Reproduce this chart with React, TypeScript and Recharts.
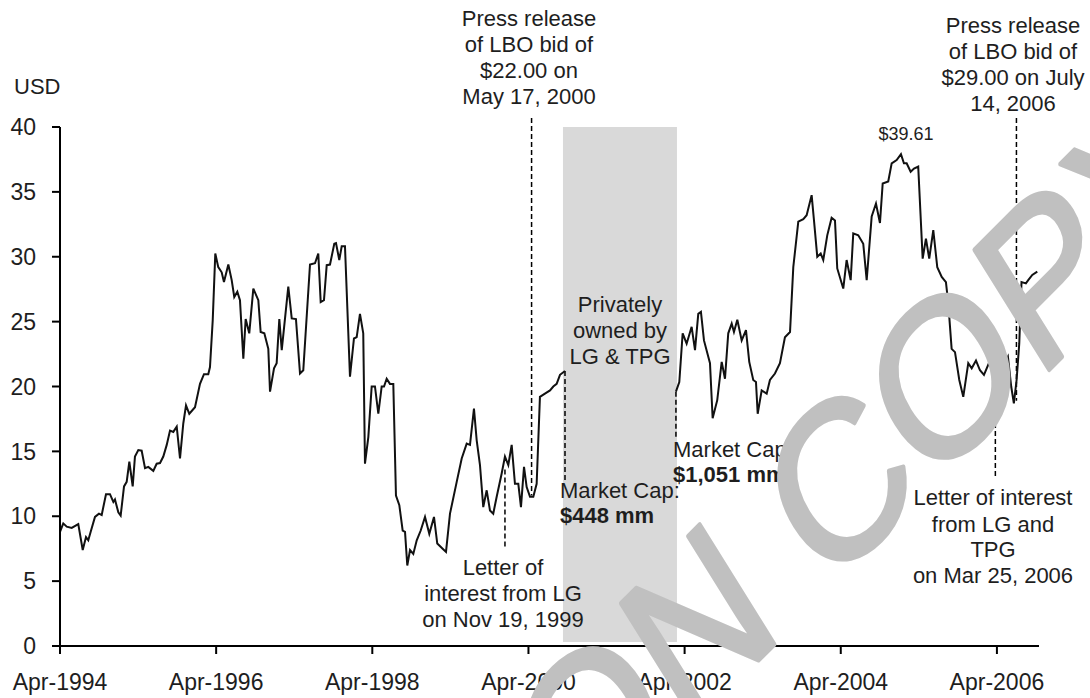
import React from 'react';
import { LineChart, Line, XAxis, YAxis, ReferenceArea, ReferenceLine } from 'recharts';

const FONT = '"Liberation Sans", Arial, Helvetica, sans-serif';
const TEXT = '#1e1e1e';

// time in decimal years, price in USD
const publicDates1 = [1994.25,1994.292,1994.336,1994.400,1994.484,1994.541,1994.583,1994.612,1994.643,1994.698,1994.749,1994.784,1994.839,1994.890,1994.933,1994.954,1994.997,1995.027,1995.070,1995.104,1995.138,1995.181,1995.210,1995.253,1995.296,1995.339,1995.381,1995.445,1995.488,1995.531,1995.573,1995.617,1995.659,1995.701,1995.745,1995.787,1995.829,1995.864,1995.906,1995.979,1996.043,1996.094,1996.149,1996.171,1996.206,1996.239,1996.277,1996.321,1996.350,1996.406,1996.449,1996.482,1996.521,1996.555,1996.598,1996.628,1996.674,1996.726,1996.790,1996.820,1996.867,1996.918,1996.940,1996.991,1997.025,1997.059,1997.090,1997.174,1997.218,1997.272,1997.324,1997.366,1997.452,1997.516,1997.558,1997.589,1997.631,1997.666,1997.708,1997.763,1997.785,1997.827,1997.858,1997.900,1997.964,1998.015,1998.050,1998.092,1998.134,1998.156,1998.199,1998.242,1998.284,1998.327,1998.370,1998.400,1998.434,1998.476,1998.519,1998.553,1998.596,1998.639,1998.669,1998.698,1998.733,1998.775,1998.819,1998.870,1998.925,1998.980,1999.040,1999.082,1999.151,1999.194,1999.245,1999.331,1999.395,1999.459,1999.501,1999.552,1999.587,1999.629,1999.671,1999.715,1999.757,1999.799,1999.843,1999.907,1999.949,1999.992,2000.035,2000.077,2000.120,2000.154,2000.193,2000.227,2000.270,2000.312,2000.355,2000.397,2000.461,2000.526,2000.568,2000.611,2000.654,2000.718];
const publicPrices1 = [8.8,9.45,9.2,9.1,9.4,7.4,8.4,8.15,8.8,9.95,10.2,10.1,11.7,11.7,11.1,11.3,10.3,10.05,12.3,12.65,14.2,12.3,14.6,15.1,15.05,13.7,13.8,13.5,14.05,14.1,14.6,15.5,16.6,16.5,16.9,14.45,17.15,18.55,17.9,18.4,20.2,20.95,20.95,21.5,25.1,30.25,29.2,28.8,28.05,29.4,28.2,26.9,27.3,26.65,22.15,25.2,24.1,27.55,26.65,24.2,24.1,22.9,19.6,21.4,21.8,25.2,22.8,27.7,25.25,25.2,21.0,21.25,29.4,29.5,30.25,26.5,26.65,29.35,29.4,31.0,31.05,29.75,30.8,30.8,20.75,23.7,23.8,25.6,24.1,14.05,16.1,20.0,20.0,17.9,20.0,20.0,20.6,20.2,20.2,11.6,10.85,8.9,8.8,6.2,7.4,7.1,8.15,8.9,9.95,8.65,9.95,7.9,7.5,7.25,10.2,12.65,14.45,15.6,15.5,18.3,15.85,13.95,10.7,12.0,10.45,10.2,11.5,13.3,14.6,13.95,15.5,12.5,12.5,10.7,13.8,12.25,11.5,11.5,12.5,19.2,19.45,19.7,20.0,20.2,20.9,21.2];

const publicDates2 = [2002.139,2002.182,2002.225,2002.276,2002.340,2002.383,2002.425,2002.459,2002.498,2002.575,2002.609,2002.668,2002.725,2002.767,2002.809,2002.853,2002.882,2002.925,2002.981,2003.036,2003.078,2003.129,2003.164,2003.186,2003.237,2003.301,2003.343,2003.407,2003.471,2003.535,2003.600,2003.642,2003.706,2003.770,2003.813,2003.877,2003.907,2003.949,2003.993,2004.026,2004.077,2004.133,2004.176,2004.205,2004.282,2004.325,2004.377,2004.410,2004.474,2004.538,2004.582,2004.646,2004.701,2004.752,2004.787,2004.858,2004.902,2004.966,2005.021,2005.059,2005.094,2005.145,2005.188,2005.242,2005.299,2005.341,2005.383,2005.435,2005.486,2005.543,2005.597,2005.627,2005.670,2005.713,2005.768,2005.819,2005.883,2005.927,2005.982,2006.033,2006.084,2006.161,2006.247,2006.289,2006.331,2006.366,2006.391,2006.433,2006.467,2006.502,2006.536,2006.565,2006.621,2006.651,2006.703,2006.767];
const publicPrices2 = [19.6,20.35,24.1,23.3,24.6,22.8,25.6,25.75,23.55,21.8,17.55,18.95,21.9,20.6,24.1,24.85,24.2,25.15,23.55,24.35,21.9,20.5,20.35,17.9,19.7,19.45,20.5,21.0,21.8,23.8,24.2,29.2,32.7,32.9,33.2,34.75,32.8,30.0,30.25,29.75,31.65,33.0,32.8,29.1,27.55,29.75,28.2,31.8,31.65,31.0,28.2,33.1,34.1,32.6,35.65,35.8,37.2,37.45,37.9,37.2,37.2,36.55,36.8,36.95,29.85,31.4,29.85,32.05,29.2,28.45,28.05,26.4,22.9,22.65,20.5,19.2,21.8,21.4,22.0,21.25,20.9,22.0,23.45,22.8,22.65,22.0,22.3,20.0,18.7,20.5,23.3,28.05,27.95,28.2,28.6,28.85];

const tickValues = [1994.25, 1996.25, 1998.25, 2000.25, 2002.25, 2004.25, 2006.25];
const tickLabels = ['Apr-1994', 'Apr-1996', 'Apr-1998', 'Apr-2000', 'Apr-2002', 'Apr-2004', 'Apr-2006'];
const yTicks = [0, 5, 10, 15, 20, 25, 30, 35, 40];

const privatePeriod = { from: 2000.692, to: 2002.152 };

// event markers: [date, top price, bottom price]
const eventLines: [number, number, number][] = [
  [1999.949, 13.6, 7.6],   // Letter of interest from LG, Nov 19 1999
  [2000.29, 40.7, 11.6],   // Press release LBO bid $22.00
  [2000.718, 21.2, 12.8],  // Market cap $448mm
  [2002.139, 19.6, 16.1],  // Market cap $1,051mm
  [2006.23, 21.5, 12.9],   // Letter of interest Mar 25 2006
  [2006.50, 40.7, 18.9],   // Press release LBO bid $29.00
];

const zip = (d: number[], p: number[]) =>
  d.slice(0, Math.min(d.length, p.length)).map((t, i) => ({ t, price: p[i] as number | null }));

const data = [
  ...zip(publicDates1, publicPrices1),
  { t: 2001.4, price: null },
  ...zip(publicDates2, publicPrices2),
];

const Lines = ({ x, ys, lines, anchor = 'middle', bold }: { x: number; ys: number[]; lines: string[]; anchor?: string; bold?: boolean[] }) => (
  <text fontFamily={FONT} fontSize={22} fill={TEXT} textAnchor={anchor as any}>
    {lines.map((l, i) => (
      <tspan key={i} x={x} y={ys[i]} fontWeight={bold && bold[i] ? 'bold' : 'normal'}>{l}</tspan>
    ))}
  </text>
);

export default function App() {
  return (
    <div style={{ position: 'absolute', left: 0, top: 0, width: 1090, height: 698, background: '#fff', overflow: 'hidden' }}>
      <LineChart width={1090} height={698} data={data} margin={{ top: 127, right: 51, bottom: 0, left: 0 }}>
        <ReferenceArea x1={privatePeriod.from} x2={privatePeriod.to} y1={0.3} y2={40} fill="#d9d9d9" fillOpacity={1} stroke="none" ifOverflow="visible" />
        <XAxis
          type="number"
          dataKey="t"
          domain={[1994.25, 2006.789]}
          ticks={tickValues}
          tickFormatter={(v: number) => tickLabels[tickValues.indexOf(v)] ?? ''}
          height={52}
          tickSize={8}
          tickMargin={20}
          axisLine={{ stroke: '#000', strokeWidth: 2 }}
          tickLine={{ stroke: '#000', strokeWidth: 2 }}
          tick={{ fill: TEXT, fontSize: 23, fontFamily: FONT }}
          allowDataOverflow
          interval={0}
        />
        <YAxis
          type="number"
          domain={[0, 40]}
          ticks={yTicks}
          width={60}
          tickSize={8}
          tickMargin={16}
          axisLine={{ stroke: '#000', strokeWidth: 2 }}
          tickLine={{ stroke: '#000', strokeWidth: 2 }}
          tick={{ fill: TEXT, fontSize: 23, fontFamily: FONT }}
          interval={0}
        />
        {eventLines.map(([t, a, b], i) => (
          <ReferenceLine key={i} segment={[{ x: t, y: a }, { x: t, y: b }]} stroke="#000" strokeWidth={1.5} strokeDasharray="5 3" ifOverflow="visible" />
        ))}
        <Line type="linear" dataKey="price" stroke="#111" strokeWidth={2} dot={false} isAnimationActive={false} connectNulls={false} />
      </LineChart>
      <svg width={1090} height={698} style={{ position: 'absolute', left: 0, top: 0, pointerEvents: 'none' }}>
        <text x={14} y={94} fontFamily={FONT} fontSize={22} fill={TEXT}>USD</text>
        <Lines x={529} ys={[26, 52, 78, 104]} lines={['Press release', 'of LBO bid of', '$22.00 on', 'May 17, 2000']} />
        <Lines x={620} ys={[312, 338, 364]} lines={['Privately', 'owned by', 'LG & TPG']} />
        <Lines x={560} ys={[498, 523]} anchor="start" lines={['Market Cap:', '$448 mm']} bold={[false, true]} />
        <Lines x={673} ys={[457, 482]} anchor="start" lines={['Market Cap:', '$1,051 mm']} bold={[false, true]} />
        <Lines x={503} ys={[575, 601, 627]} lines={['Letter of', 'interest from LG', 'on Nov 19, 1999']} />
        <Lines x={993} ys={[505, 532, 557, 583]} lines={['Letter of interest', 'from LG and', 'TPG', 'on Mar 25, 2006']} />
        <Lines x={1013} ys={[33, 59, 85, 111]} lines={['Press release', 'of LBO bid of', '$29.00 on July', '14, 2006']} />
        <text x={906} y={140} textAnchor="middle" fontFamily={FONT} fontSize={18} fill={TEXT}>$39.61</text>
        <text x={0} y={0} textAnchor="middle" transform="matrix(0.707 -0.707 0.544 0.873 849 570)" fontFamily={FONT} fontSize={200} fill="#c0c0c0" stroke="#c0c0c0" strokeWidth={4} strokeLinejoin="round">NON COPY</text>
      </svg>
    </div>
  );
}
